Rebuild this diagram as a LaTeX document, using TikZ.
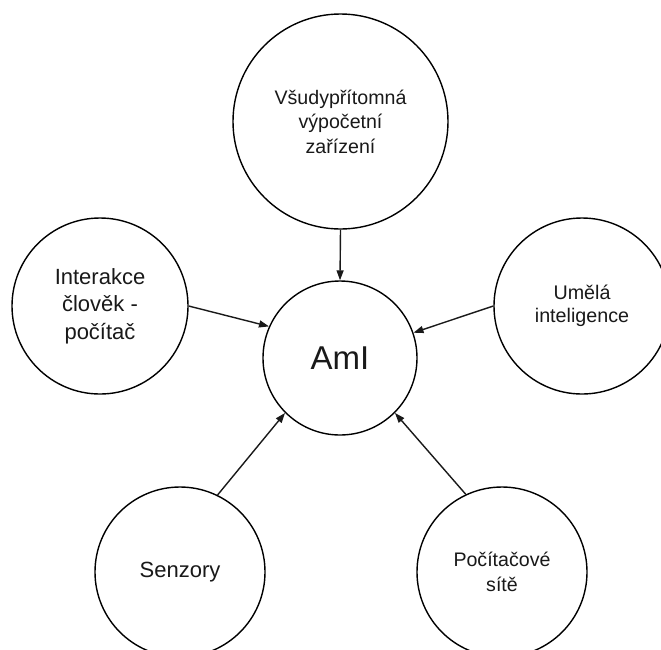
\documentclass[tikz,border=0pt]{standalone}
\usepackage{fontspec}
\setmainfont{Liberation Sans}
\usetikzlibrary{arrows.meta}
\begin{document}
\begin{tikzpicture}[x=1pt,y=-1pt,
  topic/.style={circle,draw=black,line width=1.4pt,inner sep=0pt,align=center,text=black!90},
  link/.style={-{Triangle[length=10pt,width=7pt]},line width=1.4pt,draw=black!90}]
  \clip (0,0) rectangle (661,649);
  \fill[white] (0,0) rectangle (661,649);

  % central concept
  \node[topic,minimum size=154pt,font=\fontsize{33}{38}\selectfont] (ami) at (340,358) {AmI};

  % surrounding fields
  \node[topic,minimum size=215pt,font=\fontsize{19.6}{24.5}\selectfont] (ubi) at (340.5,121.5)
    {Všudypřítomná\\výpočetní\\zařízení};
  \node[topic,minimum size=176pt,font=\fontsize{22}{27.5}\selectfont] (hci) at (100,306)
    {Interakce\\člověk -\\počítač};
  \node[topic,minimum size=176pt,font=\fontsize{19.7}{23.5}\selectfont] (ai) at (582,306)
    {Umělá\\inteligence};
  \node[topic,minimum size=170pt,font=\fontsize{22}{27}\selectfont] (sen) at (180,572)
    {Senzory};
  \node[topic,minimum size=170pt,font=\fontsize{19.6}{25}\selectfont] (net) at (502,572)
    {Počítačové\\sítě};

  % contributions to AmI
  \draw[link] (ubi.south) -- (ami.north);
  \draw[link] (hci.east) -- (ami.156);
  \draw[link] (ai.west) -- (ami.19);
  \draw[link] (sen.64.6) -- (ami.225.5);
  \draw[link] (net.115.7) -- (ami.315.5);
\end{tikzpicture}
\end{document}
